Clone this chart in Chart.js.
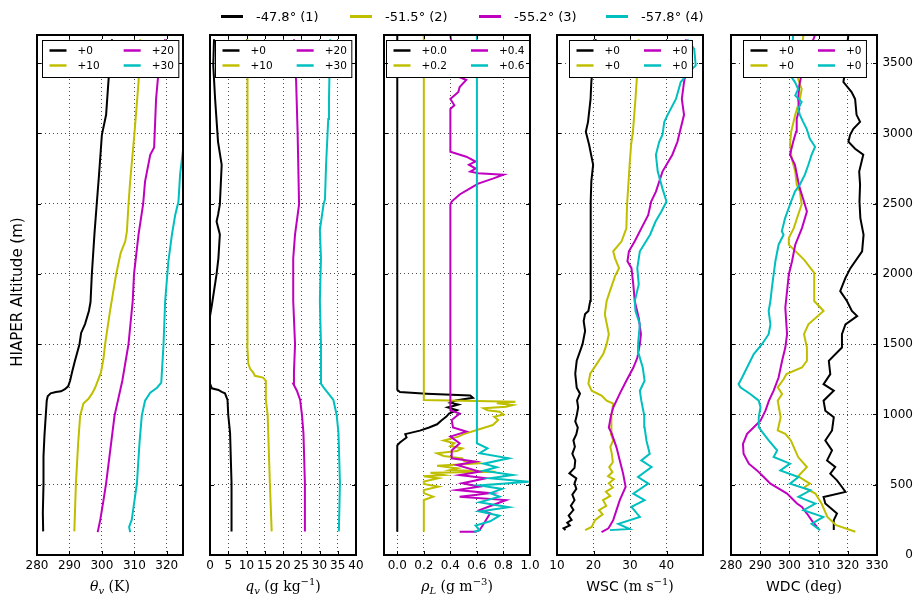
<!DOCTYPE html>
<html><head><meta charset="utf-8">
<script src="https://cdn.jsdelivr.net/npm/chart.js@4.4.0/dist/chart.umd.min.js"></script>
<style>
html,body{margin:0;padding:0;background:#fff;}
#wrap{position:relative;width:914px;height:596px;overflow:hidden;background:#fff;}
#wrap canvas{position:absolute;top:0;}
.item{position:absolute;top:8px;height:16px;display:flex;align-items:center;font:13px "DejaVu Sans";color:#000;white-space:nowrap;z-index:5;}
.sw{width:22px;height:3px;margin-right:13px;}
</style></head>
<body><div id="wrap"></div>
<script>
// ---------------- series ----------------
const seriesNames = ['-47.8° (1)', '-51.5° (2)', '-55.2° (3)', '-57.8° (4)'];
const seriesColors = ['#000000', '#bfbf00', '#bf00bf', '#00bfbf'];

// ---------------- panel 1: theta_v (K) ----------------
const thvOffsets = [0, 10, 20, 30];
const thvLabels = ['+0', '+10', '+20', '+30'];
const thvAlt1 = [168,300,500,700,850,992,1098,1130,1150,1160,1165,1180,1200,1240,1300,1382,1500,1580,1643,1736,1800,1998,2281,2494,2700,2990,3132,3365,3670];
const thv1 = [281.9,281.8,282.0,282.0,282.3,282.7,283.0,283.3,284.2,285.8,287.4,288.6,289.6,290.2,290.8,291.7,293.1,293.6,294.8,296.0,296.5,296.9,297.7,298.4,299.1,300.0,301.3,302.0,303.1];
const thvAlt2 = [168,510,800,992,1077,1110,1150,1190,1297,1400,1500,1736,1998,2150,2232,2300,2494,2657,2990,3365,3670];
const thv2 = [281.5,282.0,282.7,283.3,284.3,285.8,287.0,287.9,289.7,290.5,291.0,292.5,294.4,295.8,297.2,297.7,298.2,298.7,300.0,301.3,301.8];
const thvAlt3 = [163,250,390,510,750,992,1240,1500,1807,1998,2281,2494,2657,2848,2900,3245,3400,3670];
const thv3 = [278.7,279.5,280.5,281.3,282.6,283.9,286.3,288.2,289.5,289.9,291.3,292.7,293.3,294.9,296.1,296.7,297.3,299.5];
const thvAlt4 = [163,200,250,510,800,992,1098,1155,1190,1226,1500,1807,2090,2281,2420,2515,2706,2880,3000,3300,3700];
const thv4 = [278.7,278.4,279.2,280.8,281.6,282.3,283.3,284.9,287.0,288.3,289.0,289.5,290.5,291.6,292.6,293.6,294.1,295.0,295.8,296.5,297.5];

// ---------------- panel 2: q_v (g/kg) ----------------
const qvOffsets = [0, 10, 20, 30];
const qvLabels = ['+0', '+10', '+20', '+30'];
const qvAlt1 = [168,512,868,996,1103,1150,1160,1174,1186,1220,1700,1767,1828,1998,2111,2281,2373,2420,2494,2777,2940,3245,3483,3670];
const qv1 = [5.9,5.9,5.5,5.0,4.8,4.1,3.2,2.3,0.5,0.0,0.0,0.45,0.8,1.8,2.3,2.7,1.8,2.2,2.7,3.2,2.2,1.4,0.9,1.1];
const qvAlt2 = [168,512,996,1103,1240,1262,1275,1300,1325,1360,1500,2500,3670];
const qv2 = [6.9,6.4,5.8,5.3,5.3,4.5,2.3,1.8,1.0,0.5,0.2,0.25,0.3];
const qvAlt3 = [168,512,868,996,1103,1169,1219,1300,1500,1807,2111,2281,2494,3011,3365,3670];
const qv3 = [6.0,6.0,5.6,5.2,4.7,3.8,2.8,3.0,3.3,2.8,2.8,3.3,4.4,4.0,3.6,3.0];
const qvAlt4 = [168,512,868,996,1103,1150,1193,1219,1500,1807,2111,2312,2494,2530,2777,3103,3245,3670];
const qv4 = [5.3,5.6,5.2,4.7,3.8,2.4,1.1,0.4,0.4,0.1,0.4,0.1,1.1,1.5,1.8,2.4,2.6,2.9];

// ---------------- panel 3: rho_L (g/m3) ----------------
const rhoOffsets = [0, 0.2, 0.4, 0.6];
const rhoLabels = ['+0.0', '+0.2', '+0.4', '+0.6'];
const rhoAlt1 = [166,780,800,836,860,885,907,930,956,985,1006,1030,1050,1070,1084,1100,1119,1135,1148,1160,1175,3700];
const rho1 = [0,0,0.02,0.07,0.06,0.17,0.24,0.30,0.33,0.37,0.39,0.45,0.38,0.46,0.40,0.44,0.57,0.55,0.22,0.02,0,0];
const rhoAlt2 = [166,391,415,440,462,486,505,522,546,560,569,585,593,605,617,635,652,670,688,705,724,740,759,775,795,815,842,860,889,925,960,984,1000,1020,1030,1044,1055,1067,1080,1091,1103,3700];
const rho2 = [0,0,0.07,0,0,0.11,0,0,0.11,0,0.15,0.05,0.54,0.2,0.25,0.1,0.42,0.3,0.29,0.15,0.1,0.25,0.29,0.2,0.23,0.15,0.26,0.3,0.4,0.52,0.56,0.53,0.6,0.57,0.48,0.45,0.62,0.67,0.55,0.69,0,0];
const rhoAlt3 = [166,166,176,220,297,320,391,415,440,462,486,510,546,569,593,640,665,688,744,795,842,878,907,960,1006,1030,1067,2494,2515,2565,2607,2643,2678,2706,2716,2728,2750,2777,2800,2834,2869,3174,3200,3245,3294,3330,3380,3400,3440,3560,3700];
const rho3 = [0.07,0.19,0.22,0.25,0.30,0.22,0.42,0.07,0.30,0.05,0.22,0.09,0.27,0.07,0.22,0.05,0.19,0.01,0.01,0.07,0.0,0.12,0.02,0.01,0.07,0.0,0.0,0.0,0.01,0.07,0.145,0.21,0.32,0.40,0.21,0.15,0.19,0.14,0.19,0.12,0.0,0.0,0.03,0.0,0.06,0.07,0.12,0.07,0.12,0.02,0.0];
const rhoAlt4 = [166,176,210,240,280,310,340,375,415,440,470,495,522,546,569,600,624,650,688,724,759,795,3700];
const rho4 = [-0.02,0.02,-0.01,0.10,0.17,0.02,0.24,0.02,0.17,0.10,0.19,0.02,0.39,0.10,0.27,0.05,0.15,0.05,0.24,0.02,0.08,0,0];

// ---------------- panel 4: WSC (m/s) ----------------
const wscOffsets = [0, 0, 0, 0];
const wscLabels = ['+0', '+0', '+0', '+0'];
const wscAlt1 = [177,190,210,230,250,280,320,350,390,430,470,510,545,581,620,673,720,770,815,860,907,950,992,1050,1100,1148,1190,1290,1382,1500,1594,1665,1714,1736,1807,1998,2281,2515,2657,2777,2919,3011,3082,3245,3365,3670];
const wsc1 = [12.3,11.8,13.5,12.8,14.0,13.2,14.5,13.8,14.8,14.2,15.3,14.8,15.3,13.4,14.8,15.0,14.2,14.9,14.5,15.3,15.7,15.0,15.4,15.8,15.5,16.3,15.4,15.0,15.4,17.0,17.7,17.3,17.7,18.6,19.1,19.3,19.1,19.3,19.4,19.9,18.8,17.9,18.5,19.2,19.4,20.6];
const wscAlt2 = [177,200,248,290,319,350,390,420,450,480,510,540,560,590,626,660,723,770,815,860,907,992,1077,1098,1134,1169,1219,1290,1360,1431,1500,1571,1714,1807,1878,1984,2041,2111,2161,2232,2324,2494,2777,2919,3011,3245,3483,3670];
const wsc2 = [17.7,19.5,20.4,22.5,21.5,23.5,22.6,24.6,23.4,25.3,24.2,25.6,24.0,25.2,24.3,25.3,25.0,24.6,25.4,24.8,24.8,25.0,25.4,23.6,22.2,19.5,18.6,19.1,20.9,22.7,23.6,24.2,23.1,23.6,24.5,25.9,27.0,25.9,25.4,27.7,29.0,29.2,29.9,30.3,30.8,31.5,32.1,32.4];
const wscAlt3 = [163,190,248,319,390,485,581,673,766,864,907,992,1049,1148,1240,1332,1403,1500,1571,1686,1807,1925,2041,2090,2161,2232,2324,2420,2515,2586,2728,2848,2940,3132,3245,3365,3483,3670];
const wsc3 = [22.2,24.1,25.4,26.3,27.2,28.8,28.1,27.2,26.3,25.0,24.2,24.8,25.4,27.2,29.0,30.9,32.0,32.7,33.0,32.4,31.3,30.9,30.4,29.3,29.7,31.3,33.1,35.0,35.8,37.1,38.9,41.6,43.0,44.8,44.2,44.8,45.7,45.3];
const wscAlt4 = [177,185,222,271,342,390,437,508,555,626,673,720,815,909,992,1098,1169,1240,1332,1431,1500,1643,1736,1807,1925,2041,2161,2279,2373,2444,2515,2607,2728,2848,2940,2990,3082,3132,3245,3365,3436,3483,3599,3670];
const wsc4 = [24.5,29.9,26.8,32.7,30.4,34.0,30.9,35.0,32.2,35.9,33.1,35.4,34.5,34.0,33.9,33.1,32.7,34.0,33.5,32.4,32.2,32.7,31.5,31.3,32.4,32.0,32.7,35.5,37.0,38.6,40.0,38.9,37.6,37.1,38.0,38.9,39.4,40.3,42.6,43.9,46.2,48.0,47.6,45.7];

// ---------------- panel 5: WDC (deg) ----------------
const wdcOffsets = [0, 0, 0, 0];
const wdcLabels = ['+0', '+0', '+0', '+0'];
const wdcAlt1 = [177,248,295,366,413,449,484,531,578,626,673,744,815,886,980,1027,1098,1169,1216,1287,1382,1476,1571,1641,1700,1736,1807,1878,1972,2041,2161,2279,2397,2515,2636,2728,2848,2891,2940,2990,3032,3082,3132,3245,3294,3365,3436,3599,3700];
const wdc1 = [315.2,315.2,316.3,312.3,311.7,319.2,318.0,316.3,314.0,315.7,312.9,314.6,312.3,314.6,315.2,312.3,311.7,315.2,311.7,314.0,313.5,318.0,318.0,319.2,323.2,321.4,319.7,317.4,319.2,320.9,324.9,325.4,324.3,324.0,324.2,323.9,325.3,322.5,320.2,320.8,321.9,324.2,323.0,322.5,321.3,318.5,319.0,319.6,320.2];
const wdcAlt2 = [165,212,271,366,437,480,508,560,626,697,768,815,862,886,980,1098,1146,1193,1250,1287,1334,1382,1476,1571,1641,1736,1807,1925,2007,2102,2208,2255,2326,2421,2494,2586,2636,2728,2820,2919,3011,3132,3245,3316,3387,3700];
const wdc2 = [322.6,316.0,313.0,311.0,308.9,305.0,307.0,303.0,306.0,303.0,301.5,300.5,298.6,296.0,297.0,296.0,297.5,296.0,298.0,299.0,304.3,306.0,306.0,305.0,306.5,311.7,308.5,308.5,308.5,305.0,299.8,299.8,301.5,303.0,304.2,303.6,302.5,302.0,300.8,300.2,300.6,302.0,303.6,304.2,303.0,304.8];
const wdcAlt3 = [200,236,295,342,366,437,479,508,555,602,650,720,791,862,909,956,1027,1098,1169,1263,1382,1476,1571,1760,1996,2090,2208,2326,2444,2494,2607,2660,2777,2848,2940,3011,3103,3174,3245,3344,3500,3700];
const wdc3 = [309.5,308.0,306.0,304.3,302.6,299.2,295.8,293.5,291.2,288.9,286.1,284.3,284.1,285.5,287.8,290.1,291.8,293.0,294.6,296.3,297.5,298.6,299.2,298.6,299.8,300.9,302.0,304.3,306.0,305.3,303.6,303.0,301.9,300.2,301.3,302.3,302.5,303.4,303.0,303.4,305.0,308.8];
const wdcAlt4 = [177,222,271,319,366,413,460,508,555,602,650,697,744,815,862,909,980,1051,1098,1146,1193,1216,1263,1334,1429,1500,1571,1641,1736,1807,1901,1996,2090,2208,2279,2303,2395,2494,2586,2636,2706,2777,2848,2905,2962,3032,3082,3132,3174,3224,3270,3316,3365,3415,3700];
const wdc4 = [310.5,307.6,311.6,304.8,308.9,303.1,307.2,300.2,303.1,296.9,300.2,294.6,295.8,292.9,291.2,289.5,289.5,290.1,289.5,286.6,283.2,282.6,283.8,285.5,287.8,290.6,292.9,293.5,292.9,293.5,294.0,294.6,295.2,296.3,298.0,297.4,298.5,300.2,301.9,303.6,305.3,306.5,307.6,308.8,307.0,305.9,304.7,303.6,303.0,304.2,302.0,303.0,301.9,300.2,301.3];

// ---------------- altitude axis ----------------
const altMin = 0, altMax = 3700;
const altTicks = [0, 500, 1000, 1500, 2000, 2500, 3000, 3500];

// ---------------- layout ----------------
const TOP = 35, BOTTOM = 555, PW = 146;
const panels = [
  { L: 37,  min: 280, max: 325, step: 10, alts: [thvAlt1,thvAlt2,thvAlt3,thvAlt4], vals: [thv1,thv2,thv3,thv4], offs: thvOffsets, labels: thvLabels,
    title: [{t:'θ',i:1},{t:'v',i:1,sub:1},{t:' (K)'}] },
  { L: 210, min: 0, max: 40, step: 5, alts: [qvAlt1,qvAlt2,qvAlt3,qvAlt4], vals: [qv1,qv2,qv3,qv4], offs: qvOffsets, labels: qvLabels,
    title: [{t:'q',i:1},{t:'v',i:1,sub:1},{t:' (g kg'},{t:'−1',sup:1},{t:')'}] },
  { L: 384, min: -0.1, max: 1.0, step: 0.2, alts: [rhoAlt1,rhoAlt2,rhoAlt3,rhoAlt4], vals: [rho1,rho2,rho3,rho4], offs: rhoOffsets, labels: rhoLabels,
    fmt: v => v.toFixed(1),
    title: [{t:'ρ',i:1},{t:'L',i:1,sub:1},{t:' (g m'},{t:'−3',sup:1},{t:')'}] },
  { L: 557, min: 10, max: 50, step: 10, alts: [wscAlt1,wscAlt2,wscAlt3,wscAlt4], vals: [wsc1,wsc2,wsc3,wsc4], offs: wscOffsets, labels: wscLabels,
    fmt: v => (v === 50 ? '' : String(v)),
    title: [{t:'WSC ',sans:1},{t:'(m s'},{t:'−1',sup:1},{t:')'}] },
  { L: 731, min: 280, max: 330, step: 10, alts: [wdcAlt1,wdcAlt2,wdcAlt3,wdcAlt4], vals: [wdc1,wdc2,wdc3,wdc4], offs: wdcOffsets, labels: wdcLabels,
    title: [{t:'WDC ',sans:1},{t:'(deg)'}] }
];

// ---------------- plugins ----------------
const boxPlugin = {
  id: 'box',
  afterDraw(chart) {
    const { ctx, chartArea: a, scales: { x, y } } = chart;
    ctx.save();
    ctx.strokeStyle = '#000'; ctx.lineWidth = 1;
    ctx.beginPath();
    x.ticks.forEach(t => {
      const px = Math.round(x.getPixelForValue(t.value)) + 0.5;
      ctx.moveTo(px, a.bottom); ctx.lineTo(px, a.bottom - 4);
      ctx.moveTo(px, a.top); ctx.lineTo(px, a.top + 4);
    });
    y.ticks.forEach(t => {
      const py = Math.round(y.getPixelForValue(t.value)) + 0.5;
      ctx.moveTo(a.left, py); ctx.lineTo(a.left + 4, py);
      ctx.moveTo(a.right, py); ctx.lineTo(a.right - 4, py);
    });
    ctx.stroke();
    ctx.lineWidth = 2;
    ctx.strokeRect(a.left, a.top, a.right - a.left, a.bottom - a.top);
    ctx.restore();
  }
};

const panelLegend = {
  id: 'panelLegend',
  afterDatasetsDraw(chart) {
    const { ctx, chartArea: a } = chart;
    const ds = chart.data.datasets;
    ctx.save();
    ctx.font = '10.5px "DejaVu Sans"';
    const w = s => ctx.measureText(s).width;
    const w1 = Math.max(w(ds[0].label), w(ds[1].label));
    const w2 = Math.max(w(ds[2].label), w(ds[3].label));
    const padL = 7, padR = 5, hl = 17, hg = 11, cg = 24;
    const bw = padL + hl + hg + w1 + cg + hl + hg + w2 + padR;
    const bx = Math.round((a.left + a.right) / 2 - bw / 2) + 0.5;
    const by = a.top + 5.5, bh = 37;
    ctx.fillStyle = '#fff';
    ctx.fillRect(bx, by, bw, bh);
    ctx.strokeStyle = '#000'; ctx.lineWidth = 1;
    ctx.strokeRect(bx, by, bw, bh);
    const cols = [bx + padL, bx + padL + hl + hg + w1 + cg];
    const rows = [by + 10, by + 25];
    [0, 1, 2, 3].forEach(i => {
      const cx = cols[i < 2 ? 0 : 1], cy = rows[i % 2];
      ctx.strokeStyle = ds[i].borderColor; ctx.lineWidth = 2.5;
      ctx.beginPath(); ctx.moveTo(cx, cy); ctx.lineTo(cx + hl, cy); ctx.stroke();
      ctx.fillStyle = '#000'; ctx.textBaseline = 'middle'; ctx.textAlign = 'left';
      ctx.fillText(ds[i].label, cx + hl + hg, cy + 0.5);
    });
    ctx.restore();
  }
};

const richTitle = {
  id: 'richTitle',
  afterDraw(chart, args, opts) {
    const segs = opts.segs; if (!segs) return;
    const { ctx, chartArea: a } = chart;
    ctx.save(); ctx.fillStyle = '#000'; ctx.textBaseline = 'alphabetic'; ctx.textAlign = 'left';
    const fontOf = s => (s.i ? 'italic ' : '') + ((s.sub || s.sup) ? '10px ' : '14px ') + (s.sans ? '"DejaVu Sans"' : '"DejaVu Serif"');
    let total = 0;
    const ws = segs.map(s => { ctx.font = fontOf(s); const m = ctx.measureText(s.t).width; total += m; return m; });
    let x = (a.left + a.right) / 2 - total / 2;
    const y = 591;
    segs.forEach((s, k) => { ctx.font = fontOf(s); ctx.fillText(s.t, x, y + (s.sub ? 3 : s.sup ? -6 : 0)); x += ws[k]; });
    ctx.restore();
  }
};

const yTitle = {
  id: 'yTitle',
  afterDraw(chart, args, opts) {
    if (!opts.text) return;
    const { ctx } = chart;
    ctx.save();
    ctx.translate(18, (TOP + BOTTOM) / 2 - 3);
    ctx.rotate(-Math.PI / 2);
    ctx.font = '15px "DejaVu Sans"'; ctx.fillStyle = '#000';
    ctx.textAlign = 'center'; ctx.textBaseline = 'middle';
    ctx.fillText(opts.text, 0, 0);
    ctx.restore();
  }
};

// ---------------- build ----------------
const wrap = document.getElementById('wrap');
Chart.defaults.font.family = '"DejaVu Sans"';

panels.forEach((p, idx) => {
  const padL = idx === 0 ? 37 : 24;
  const padR = idx === 4 ? 1 : 24;
  const yW = idx === 4 ? 36 : 0;
  const width = padL + PW + yW + padR;
  const canvas = document.createElement('canvas');
  canvas.width = width; canvas.height = 596;
  canvas.style.left = (p.L - padL) + 'px';
  canvas.style.width = width + 'px'; canvas.style.height = '596px';
  wrap.appendChild(canvas);

  const datasets = p.alts.map((alts, k) => ({
    label: p.labels[k],
    data: alts.map((a, j) => ({ x: p.vals[k][j] + p.offs[k], y: a })),
    borderColor: seriesColors[k],
    backgroundColor: seriesColors[k],
    borderWidth: 2,
    pointRadius: 0,
    showLine: true,
    tension: 0,
    order: 4 - k
  }));

  const gridCol = 'rgba(0,0,0,0.7)';
  new Chart(canvas.getContext('2d'), {
    type: 'scatter',
    data: { datasets },
    options: {
      responsive: false, animation: false, devicePixelRatio: 1, events: [],
      layout: { padding: { left: padL, right: padR, top: TOP, bottom: 0 } },
      plugins: {
        legend: { display: false }, tooltip: { enabled: false },
        richTitle: { segs: p.title },
        yTitle: { text: idx === 0 ? 'HIAPER Altitude (m)' : '' }
      },
      scales: {
        x: {
          type: 'linear', position: 'bottom', min: p.min, max: p.max,
          afterFit: s => { s.height = 596 - BOTTOM; },
          ticks: { stepSize: p.step, includeBounds: false, autoSkip: false, maxRotation: 0, minRotation: 0,
                   padding: 4, color: '#000', font: { size: 12 },
                   callback: p.fmt ? (v => p.fmt(v)) : (v => String(v)) },
          grid: { color: gridCol, lineWidth: 1, drawTicks: false },
          border: { display: false, dash: [1, 3] }
        },
        y: {
          type: 'linear', position: idx === 4 ? 'right' : 'left', min: altMin, max: altMax,
          afterBuildTicks: s => { s.ticks = altTicks.map(v => ({ value: v })); },
          afterFit: s => { s.width = yW; },
          ticks: { display: idx === 4, autoSkip: false, padding: 0, crossAlign: 'far',
                   color: '#000', font: { size: 12 }, callback: v => String(v) },
          grid: { color: gridCol, lineWidth: 1, drawTicks: false },
          border: { display: false, dash: [1, 3] }
        }
      }
    },
    plugins: [boxPlugin, panelLegend, richTitle, yTitle]
  });
});

// ---------------- top legend ----------------
const legX = [221, 350, 479, 606];
seriesNames.forEach((name, i) => {
  const it = document.createElement('div');
  it.className = 'item';
  it.style.left = legX[i] + 'px';
  const sw = document.createElement('span');
  sw.className = 'sw'; sw.style.background = seriesColors[i];
  const tx = document.createElement('span');
  tx.textContent = name;
  it.appendChild(sw); it.appendChild(tx);
  wrap.appendChild(it);
});
</script></body></html>
